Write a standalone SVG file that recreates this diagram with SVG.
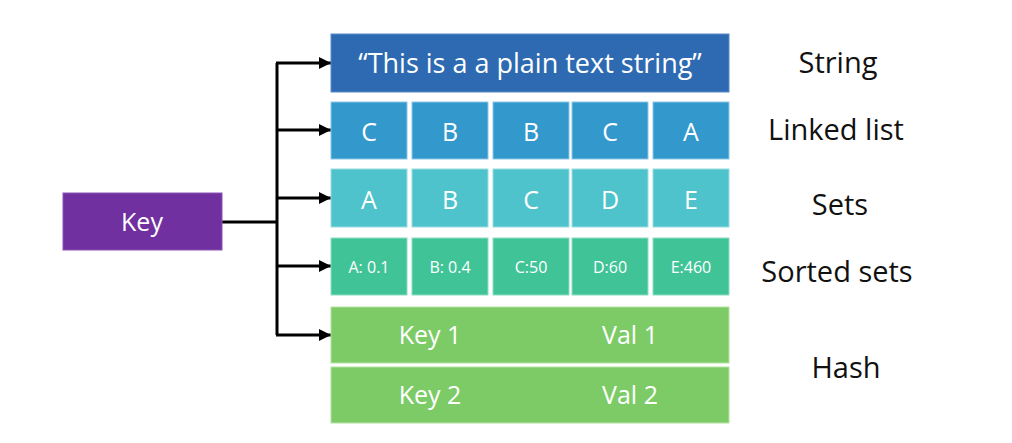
<svg xmlns="http://www.w3.org/2000/svg" width="1012" height="443" viewBox="0 0 1012 443">
<style>
text{font-family:"Open Sans","Liberation Sans",sans-serif;text-anchor:middle}
.w{fill:#ffffff}
.lab{fill:#111111;font-size:29px}
.big{font-size:25px}
.sb{font-size:27px}
.sm{font-size:16px}
.str{fill:#2E6AB1;stroke:#5A8CC8;stroke-width:1}
.ll{fill:#3398CC;stroke:#8CC8E6;stroke-width:1}
.st{fill:#4EC3CB;stroke:#9BDDE2;stroke-width:1}
.ss{fill:#40C497;stroke:#8EDDC0;stroke-width:1}
.h{fill:#7DCB67;stroke:#B3E2A4;stroke-width:1}
.c{stroke:#000;stroke-width:3;fill:none}
</style>
<defs>
<marker id="ah" viewBox="0 0 10 10" refX="10" refY="5" markerWidth="4.5" markerHeight="4" orient="auto" markerUnits="strokeWidth">
<path d="M0,0 L10,5 L0,10 z" fill="#000"/>
</marker>
</defs>
<rect width="1012" height="443" fill="#ffffff"/>
<g id="connectors">
<path class="c" d="M222,222 H277"/>
<path class="c" d="M277,63 V335"/>
<path class="c" d="M276,63 H331" marker-end="url(#ah)"/>
<path class="c" d="M276,130 H331" marker-end="url(#ah)"/>
<path class="c" d="M276,198 H331" marker-end="url(#ah)"/>
<path class="c" d="M276,266 H331" marker-end="url(#ah)"/>
<path class="c" d="M276,335 H331" marker-end="url(#ah)"/>
</g>
<g id="key">
<rect x="63" y="193" width="159" height="57" fill="#7030A0" stroke="#8A55B5" stroke-width="1"/>
<text x="142" y="231" class="w big">Key</text>
</g>
<g id="string">
<rect class="str" x="331" y="34" width="398" height="58"/>
<text x="530" y="73" class="w sb">“This is a a plain text string”</text>
</g>
<g id="linked-list">
<rect class="ll" x="331" y="102" width="76" height="57"/>
<rect class="ll" x="412" y="102" width="76" height="57"/>
<rect class="ll" x="493" y="102" width="76" height="57"/>
<rect class="ll" x="572" y="102" width="76" height="57"/>
<rect class="ll" x="653" y="102" width="76" height="57"/>
<text x="369" y="141" class="w big">C</text>
<text x="450" y="141" class="w big">B</text>
<text x="531" y="141" class="w big">B</text>
<text x="610" y="141" class="w big">C</text>
<text x="691" y="141" class="w big">A</text>
</g>
<g id="sets">
<rect class="st" x="331" y="169" width="76" height="58"/>
<rect class="st" x="412" y="169" width="76" height="58"/>
<rect class="st" x="493" y="169" width="76" height="58"/>
<rect class="st" x="572" y="169" width="76" height="58"/>
<rect class="st" x="653" y="169" width="76" height="58"/>
<text x="369" y="209" class="w big">A</text>
<text x="450" y="209" class="w big">B</text>
<text x="531" y="209" class="w big">C</text>
<text x="610" y="209" class="w big">D</text>
<text x="691" y="209" class="w big">E</text>
</g>
<g id="sorted-sets">
<rect class="ss" x="331" y="238" width="76" height="57"/>
<rect class="ss" x="412" y="238" width="76" height="57"/>
<rect class="ss" x="493" y="238" width="76" height="57"/>
<rect class="ss" x="572" y="238" width="76" height="57"/>
<rect class="ss" x="653" y="238" width="76" height="57"/>
<text x="369" y="273" class="w sm">A: 0.1</text>
<text x="450" y="273" class="w sm">B: 0.4</text>
<text x="531" y="273" class="w sm">C:50</text>
<text x="610" y="273" class="w sm">D:60</text>
<text x="691" y="273" class="w sm">E:460</text>
</g>
<g id="hash">
<rect class="h" x="331" y="307" width="398" height="56"/>
<rect class="h" x="331" y="367" width="398" height="56"/>
<text x="430" y="344" class="w big">Key 1</text>
<text x="630" y="344" class="w big">Val 1</text>
<text x="430" y="404" class="w big">Key 2</text>
<text x="630" y="404" class="w big">Val 2</text>
</g>
<g id="labels">
<text x="838" y="73" class="lab">String</text>
<text x="836" y="140" class="lab">Linked list</text>
<text x="840" y="215" class="lab">Sets</text>
<text x="837" y="282" class="lab">Sorted sets</text>
<text x="846" y="378" class="lab">Hash</text>
</g>
</svg>
